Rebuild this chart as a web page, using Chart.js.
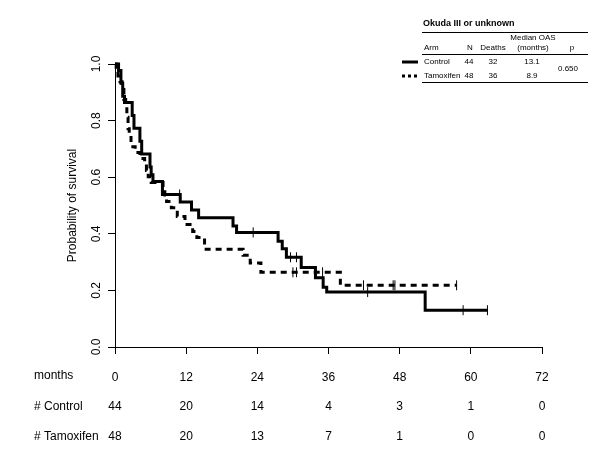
<!DOCTYPE html>
<html>
<head>
<meta charset="utf-8">
<script src="https://cdn.jsdelivr.net/npm/chart.js@4.4.1/dist/chart.umd.min.js"></script>
<style>
  html, body { margin: 0; padding: 0; background: #fff; }
  canvas { display: block; }
</style>
</head>
<body>
<canvas id="km" width="600" height="450"></canvas>
<script>
// Kaplan-Meier step points (time in months, survival after the event)
const controlTimes = [0, 0.6, 1.0, 1.3, 1.6, 2.9, 3.2, 4.2, 4.5, 5.9, 6.1, 6.4, 8.0, 11.0, 12.9, 14.1, 19.9, 20.5, 27.5, 28.2, 28.9, 31.4, 33.8, 35.1, 35.7, 52.3, 62.8];
const controlSurv = [1.0, 0.977, 0.932, 0.886, 0.864, 0.818, 0.773, 0.727, 0.682, 0.636, 0.609, 0.585, 0.539, 0.512, 0.484, 0.457, 0.428, 0.405, 0.374, 0.347, 0.317, 0.281, 0.245, 0.211, 0.194, 0.130, 0.130];
const controlCensor = [10.9, 23.3, 29.6, 30.6, 42.6, 58.7, 62.8];

const tamoxTimes = [0, 0.2, 0.5, 0.85, 1.2, 1.5, 1.8, 2.0, 2.2, 2.4, 2.7, 3.4, 4.2, 5.0, 5.3, 5.6, 6.1, 8.1, 8.4, 8.7, 9.5, 10.5, 11.8, 13.1, 13.8, 15.1, 21.6, 22.8, 24.6, 38.0, 57.6];
const tamoxSurv = [1.0, 0.979, 0.958, 0.937, 0.917, 0.875, 0.854, 0.812, 0.771, 0.75, 0.708, 0.687, 0.666, 0.645, 0.624, 0.602, 0.581, 0.56, 0.537, 0.514, 0.492, 0.461, 0.433, 0.408, 0.387, 0.345, 0.324, 0.297, 0.264, 0.218, 0.218];
const tamoxCensor = [30.0, 30.6, 35.0, 41.9, 46.9, 47.2, 57.6];

// number at risk table
const riskMonths = [0, 12, 24, 36, 48, 60, 72];
const riskControl = [44, 20, 14, 4, 3, 1, 0];
const riskTamox = [48, 20, 13, 7, 1, 0, 0];

// legend table
const tableTitle = "Okuda III or unknown";
const tableArms = ["Control", "Tamoxifen"];
const tableN = [44, 48];
const tableDeaths = [32, 36];
const tableMedian = ["13.1", "8.9"];
const tableP = "0.650";

const FONT = "'Liberation Sans', Arial, sans-serif";

function toPoints(ts, ss) {
  return ts.map((t, i) => ({ x: t, y: ss[i] }));
}
function survAt(ts, ss, t) {
  let s = ss[0];
  for (let i = 0; i < ts.length; i++) if (ts[i] <= t) s = ss[i];
  return s;
}
function censorPoints(cs, ts, ss) {
  return cs.map(t => ({ x: t, y: survAt(ts, ss, t) }));
}

const extras = {
  id: "extras",
  afterDraw(chart) {
    const ctx = chart.ctx;
    const xs = chart.scales.x;
    ctx.save();
    ctx.fillStyle = "#000";
    ctx.textBaseline = "middle";

    // number at risk rows
    ctx.font = "12px " + FONT;
    ctx.textAlign = "left";
    ctx.fillText("months", 34, 376);
    ctx.fillText("# Control", 34, 407);
    ctx.fillText("# Tamoxifen", 34, 437);
    ctx.textAlign = "center";
    riskMonths.forEach((m, i) => {
      const px = xs.getPixelForValue(m);
      ctx.fillText(String(riskControl[i]), px, 407);
      ctx.fillText(String(riskTamox[i]), px, 437);
    });

    // legend table
    ctx.font = "bold 9px " + FONT;
    ctx.textAlign = "left";
    ctx.fillText(tableTitle, 423, 24);
    ctx.strokeStyle = "#000";
    ctx.lineWidth = 1;
    [32.5, 54.5, 82.5].forEach(y => {
      ctx.beginPath();
      ctx.moveTo(422, y);
      ctx.lineTo(588, y);
      ctx.stroke();
    });
    ctx.font = "8px " + FONT;
    ctx.textAlign = "center";
    ctx.fillText("Median OAS", 533, 38);
    ctx.fillText("(months)", 533, 48);
    ctx.fillText("N", 470, 48);
    ctx.fillText("Deaths", 493, 48);
    ctx.fillText("p", 572, 48);
    ctx.textAlign = "left";
    ctx.fillText("Arm", 424, 48);
    const rowY = [62, 76];
    tableArms.forEach((arm, i) => {
      const y = rowY[i];
      ctx.textAlign = "left";
      ctx.fillText(arm, 424, y);
      ctx.textAlign = "center";
      ctx.fillText(String(tableN[i]), 469, y);
      ctx.fillText(String(tableDeaths[i]), 493, y);
      ctx.fillText(tableMedian[i], 532, y);
      ctx.beginPath();
      ctx.lineWidth = 3;
      ctx.setLineDash(i === 0 ? [] : [3, 3]);
      ctx.moveTo(402, y);
      ctx.lineTo(418, y);
      ctx.stroke();
      ctx.setLineDash([]);
    });
    ctx.fillText(tableP, 568, 69);
    ctx.restore();
  }
};

new Chart(document.getElementById("km"), {
  type: "line",
  data: {
    datasets: [
      {
        data: toPoints(controlTimes, controlSurv),
        stepped: "before",
        borderColor: "#000",
        borderWidth: 3,
        pointRadius: 0,
        fill: false,
        clip: false
      },
      {
        data: toPoints(tamoxTimes, tamoxSurv),
        stepped: "before",
        borderColor: "#000",
        borderWidth: 3,
        borderDash: [6, 5],
        pointRadius: 0,
        fill: false,
        clip: false
      },
      {
        data: censorPoints(controlCensor, controlTimes, controlSurv),
        showLine: false,
        pointStyle: "line",
        pointRotation: 90,
        pointRadius: 5,
        pointBorderWidth: 1,
        pointBorderColor: "#000",
        clip: false
      },
      {
        data: censorPoints(tamoxCensor, tamoxTimes, tamoxSurv),
        showLine: false,
        pointStyle: "line",
        pointRotation: 90,
        pointRadius: 5,
        pointBorderWidth: 1,
        pointBorderColor: "#000",
        clip: false
      }
    ]
  },
  options: {
    responsive: false,
    animation: false,
    layout: { padding: { top: 64, right: 58, left: 0, bottom: 0 } },
    plugins: { legend: { display: false }, tooltip: { enabled: false } },
    scales: {
      x: {
        type: "linear",
        min: 0,
        max: 72,
        afterFit: s => { s.height = 103; },
        border: { display: true, color: "#000", width: 1 },
        grid: { drawOnChartArea: false, drawTicks: true, tickLength: 7, tickColor: "#000" },
        ticks: {
          stepSize: 12,
          padding: 16,
          color: "#000",
          font: { family: FONT, size: 12 }
        }
      },
      y: {
        min: 0,
        max: 1,
        afterFit: s => { s.width = 115; },
        border: { display: true, color: "#000", width: 1 },
        grid: { drawOnChartArea: false, drawTicks: true, tickLength: 7, tickColor: "#000" },
        ticks: {
          stepSize: 0.2,
          minRotation: 90,
          crossAlign: "center",
          padding: 3,
          color: "#000",
          font: { family: FONT, size: 12 },
          callback: v => v.toFixed(1)
        },
        title: {
          display: true,
          text: "Probability of survival",
          color: "#000",
          font: { family: FONT, size: 12 },
          padding: { top: 65, bottom: 0 }
        }
      }
    }
  },
  plugins: [extras]
});
</script>
</body>
</html>
